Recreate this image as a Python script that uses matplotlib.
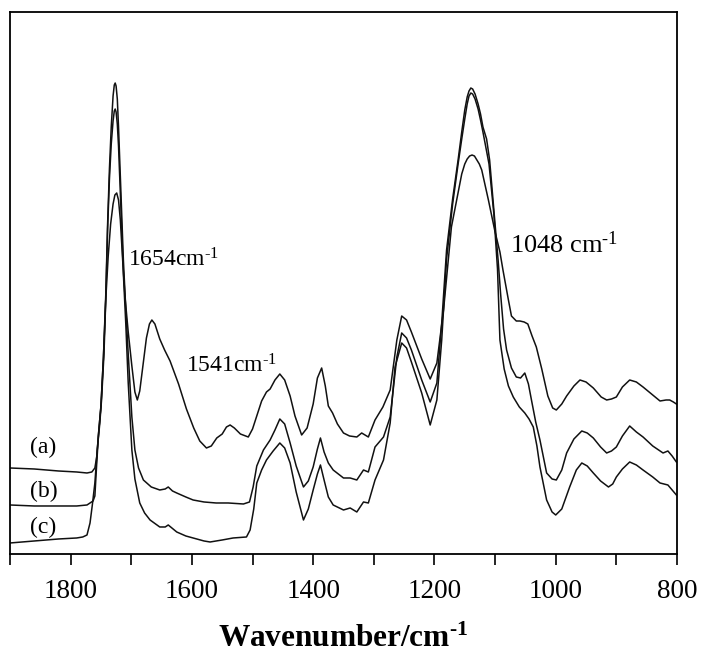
import numpy as np
import matplotlib
matplotlib.use('Agg')
from matplotlib import pyplot as plt
from matplotlib.ticker import MultipleLocator, NullLocator

plt.rcParams['font.family'] = ['Liberation Serif', 'DejaVu Serif']
plt.rcParams['mathtext.fontset'] = 'custom'
plt.rcParams['mathtext.rm'] = 'Liberation Serif'
plt.rcParams['mathtext.it'] = 'Liberation Serif:italic'
plt.rcParams['mathtext.bf'] = 'Liberation Serif:bold'

# FTIR spectra, (wavenumber cm-1, absorbance a.u. with offset)
spec_a = [
    (1900, 0.86), (1860, 0.85), (1820, 0.83), (1790, 0.82), (1773, 0.81), (1765, 0.82),
    (1760, 0.86), (1757, 0.97), (1754, 1.20), (1750, 1.48), (1746, 1.95), (1742, 2.55),
    (1738, 2.98), (1734, 3.30), (1730, 3.50), (1727, 3.59), (1724, 3.61), (1721, 3.54),
    (1718, 3.34), (1714, 2.92), (1710, 2.55), (1705, 2.22), (1699, 1.88), (1694, 1.62),
    (1690, 1.54), (1686, 1.63), (1680, 1.92), (1675, 2.16), (1670, 2.30), (1666, 2.34),
    (1661, 2.30), (1653, 2.15), (1645, 2.04), (1636, 1.93), (1622, 1.70), (1609, 1.45),
    (1597, 1.26), (1587, 1.13), (1576, 1.06), (1568, 1.08), (1559, 1.16), (1550, 1.20),
    (1543, 1.27), (1537, 1.29), (1530, 1.26), (1520, 1.20), (1507, 1.17), (1500, 1.25),
    (1493, 1.38), (1485, 1.53), (1477, 1.62), (1471, 1.65), (1463, 1.74), (1455, 1.80),
    (1447, 1.74), (1438, 1.58), (1430, 1.38), (1419, 1.19), (1410, 1.26), (1400, 1.50),
    (1393, 1.76), (1386, 1.86), (1380, 1.68), (1375, 1.48), (1368, 1.41), (1360, 1.30),
    (1350, 1.21), (1340, 1.18), (1328, 1.17), (1320, 1.21), (1309, 1.17), (1298, 1.34),
    (1285, 1.47), (1273, 1.64), (1262, 2.14), (1254, 2.38), (1246, 2.34), (1238, 2.22),
    (1221, 1.95), (1207, 1.75), (1196, 1.91), (1185, 2.44), (1172, 3.27), (1163, 3.55),
    (1155, 3.80), (1150, 3.90), (1146, 3.95), (1142, 3.98), (1138, 3.99), (1134, 3.98),
    (1130, 3.94), (1126, 3.90), (1122, 3.84), (1111, 3.54),
    (1100, 3.22), (1092, 3.02), (1087, 2.84), (1078, 2.54), (1073, 2.38), (1065, 2.33),
    (1059, 2.33), (1052, 2.32), (1046, 2.30), (1039, 2.18), (1032, 2.07), (1023, 1.85),
    (1013, 1.58), (1005, 1.46), (999, 1.44), (990, 1.50), (982, 1.58), (970, 1.68),
    (960, 1.74), (950, 1.72), (938, 1.66), (925, 1.57), (916, 1.54), (908, 1.55),
    (900, 1.57), (890, 1.67), (878, 1.74), (867, 1.72), (856, 1.67), (842, 1.60),
    (828, 1.53), (818, 1.54), (812, 1.54), (806, 1.52), (801, 1.50),
]

spec_b = [
    (1900, 0.49), (1860, 0.48), (1820, 0.48), (1790, 0.48), (1773, 0.49), (1768, 0.51),
    (1763, 0.53), (1760, 0.58), (1757, 0.90), (1754, 1.20), (1750, 1.48), (1746, 1.95),
    (1742, 2.60), (1739, 3.30), (1736, 3.85), (1733, 4.27), (1730, 4.58), (1728, 4.69),
    (1726.5, 4.71), (1725, 4.68), (1723, 4.55), (1721, 4.27), (1717, 3.61), (1713, 2.94),
    (1709, 2.45), (1705, 2.00),
    (1699, 1.37), (1694, 1.04), (1688, 0.86), (1680, 0.74), (1667, 0.67), (1653, 0.64),
    (1644, 0.65), (1639, 0.67), (1632, 0.63), (1625, 0.61), (1610, 0.57), (1598, 0.54),
    (1580, 0.52), (1560, 0.51), (1540, 0.51), (1515, 0.50), (1505, 0.52), (1499, 0.67),
    (1493, 0.88), (1482, 1.04), (1471, 1.14), (1463, 1.24), (1455, 1.35), (1447, 1.30),
    (1438, 1.11), (1428, 0.88), (1416, 0.67), (1408, 0.73), (1400, 0.87), (1393, 1.05),
    (1388, 1.16), (1382, 1.02), (1375, 0.91), (1367, 0.84), (1350, 0.76), (1339, 0.76),
    (1328, 0.74), (1317, 0.84), (1309, 0.82), (1298, 1.07), (1284, 1.17), (1273, 1.37),
    (1262, 1.97), (1254, 2.21), (1246, 2.16), (1238, 2.04), (1221, 1.74), (1207, 1.52),
    (1196, 1.71), (1188, 2.31), (1180, 3.04), (1170, 3.55), (1161, 3.94), (1155, 4.22),
    (1150, 4.44), (1146, 4.57), (1143, 4.63), (1140, 4.66), (1137, 4.65), (1133, 4.60),
    (1128, 4.50), (1124, 4.40), (1120, 4.27), (1114, 4.15),
    (1109, 3.94), (1102, 3.44), (1095, 2.94), (1091, 2.61), (1086, 2.25), (1081, 2.04),
    (1073, 1.86), (1065, 1.77), (1058, 1.76), (1051, 1.81), (1045, 1.70), (1040, 1.54),
    (1033, 1.32), (1026, 1.14), (1015, 0.81), (1006, 0.75), (999, 0.74), (990, 0.84),
    (982, 1.01), (970, 1.15), (957, 1.23), (948, 1.21), (938, 1.16), (926, 1.07),
    (916, 1.01), (908, 1.03), (900, 1.07), (890, 1.18), (878, 1.28), (867, 1.22),
    (856, 1.17), (840, 1.08), (823, 1.01), (815, 1.03), (808, 0.98), (801, 0.92),
]

spec_c = [
    (1900, 0.11), (1860, 0.13), (1820, 0.15), (1790, 0.16), (1780, 0.17), (1773, 0.19),
    (1768, 0.31), (1764, 0.50), (1760, 0.71), (1756, 1.05), (1752, 1.30), (1749, 1.54),
    (1745, 2.00), (1742, 2.55), (1739, 3.25), (1736, 3.75), (1733, 4.10), (1730, 4.33),
    (1728, 4.43), (1726.5, 4.45), (1725, 4.42), (1723, 4.30), (1721, 4.08), (1717, 3.45),
    (1713, 2.80), (1709, 2.30), (1705, 1.71),
    (1699, 1.04), (1694, 0.75), (1686, 0.51), (1678, 0.41), (1669, 0.34), (1653, 0.27),
    (1644, 0.27), (1639, 0.29), (1633, 0.26), (1625, 0.22), (1610, 0.18), (1598, 0.16),
    (1580, 0.13), (1570, 0.12), (1550, 0.14), (1532, 0.16), (1510, 0.17), (1504, 0.24),
    (1498, 0.45), (1493, 0.71), (1485, 0.84), (1477, 0.94), (1466, 1.03), (1455, 1.11),
    (1447, 1.06), (1438, 0.91), (1428, 0.62), (1416, 0.34), (1408, 0.45), (1400, 0.64),
    (1393, 0.80), (1388, 0.89), (1382, 0.74), (1375, 0.57), (1367, 0.49), (1350, 0.44),
    (1339, 0.46), (1328, 0.42), (1317, 0.52), (1309, 0.51), (1298, 0.74), (1284, 0.94),
    (1273, 1.31), (1265, 1.87), (1254, 2.11), (1246, 2.06), (1238, 1.92), (1221, 1.61),
    (1207, 1.29), (1196, 1.54), (1188, 2.14), (1180, 2.95), (1170, 3.50), (1161, 3.90),
    (1155, 4.15), (1150, 4.35), (1146, 4.50), (1143, 4.58), (1140, 4.61), (1137, 4.60),
    (1133, 4.55), (1128, 4.45), (1124, 4.34), (1120, 4.22),
    (1110, 3.90), (1102, 3.40), (1096, 2.85), (1092, 2.14), (1085, 1.85), (1078, 1.68),
    (1070, 1.57), (1060, 1.47), (1051, 1.41), (1044, 1.35), (1037, 1.27), (1031, 1.08),
    (1026, 0.87), (1015, 0.54), (1006, 0.42), (1000, 0.39), (990, 0.45), (977, 0.67),
    (966, 0.84), (957, 0.91), (948, 0.88), (938, 0.81), (926, 0.73), (913, 0.67),
    (906, 0.70), (900, 0.77), (890, 0.85), (878, 0.92), (867, 0.89), (856, 0.84),
    (840, 0.77), (828, 0.71), (815, 0.69), (808, 0.64), (801, 0.59),
]

curve_labels = ['(a)', '(b)', '(c)']
peak_labels = ['1654cm$^{\\text{-}1}$', '1541cm$^{\\text{-}1}$', '1048 cm$^{\\text{-}1}$']

fig = plt.figure(figsize=(7.03, 6.57), dpi=100)
ax = fig.add_axes([0.0142, 0.1568, 0.9488, 0.8249])

for spec in (spec_a, spec_b, spec_c):
    wn, ab = np.array(spec).T
    ax.plot(wn, ab, color='#111111', linewidth=1.1)

ax.set_xlim(1900, 800)
ax.set_ylim(0, 5.42)
ax.xaxis.set_major_locator(MultipleLocator(200))
ax.xaxis.set_minor_locator(MultipleLocator(100))
ax.yaxis.set_major_locator(NullLocator())
ax.tick_params(axis='x', which='both', direction='out', length=8, width=1.2,
               labelsize=19.5, pad=10)
for sp in ax.spines.values():
    sp.set_linewidth(1.3)

ax.set_xlabel('Wavenumber/cm$^{\\mathbf{\\text{-}1}}$', fontsize=22.5, fontweight='bold',
              labelpad=15)

# sample labels at the left
ax.text(1845, 1.07, curve_labels[0], fontsize=17, ha='center', va='center')
ax.text(1845, 0.63, curve_labels[1], fontsize=17, ha='center', va='center')
ax.text(1845, 0.27, curve_labels[2], fontsize=17, ha='center', va='center')

# band annotations
ax.text(1706, 2.88, peak_labels[0], fontsize=17, ha='left', va='baseline')
ax.text(1609, 1.81, peak_labels[1], fontsize=17, ha='left', va='baseline')
ax.text(1076, 3.01, peak_labels[2], fontsize=19, ha='left', va='baseline')

fig.savefig('out.png', dpi=100)
